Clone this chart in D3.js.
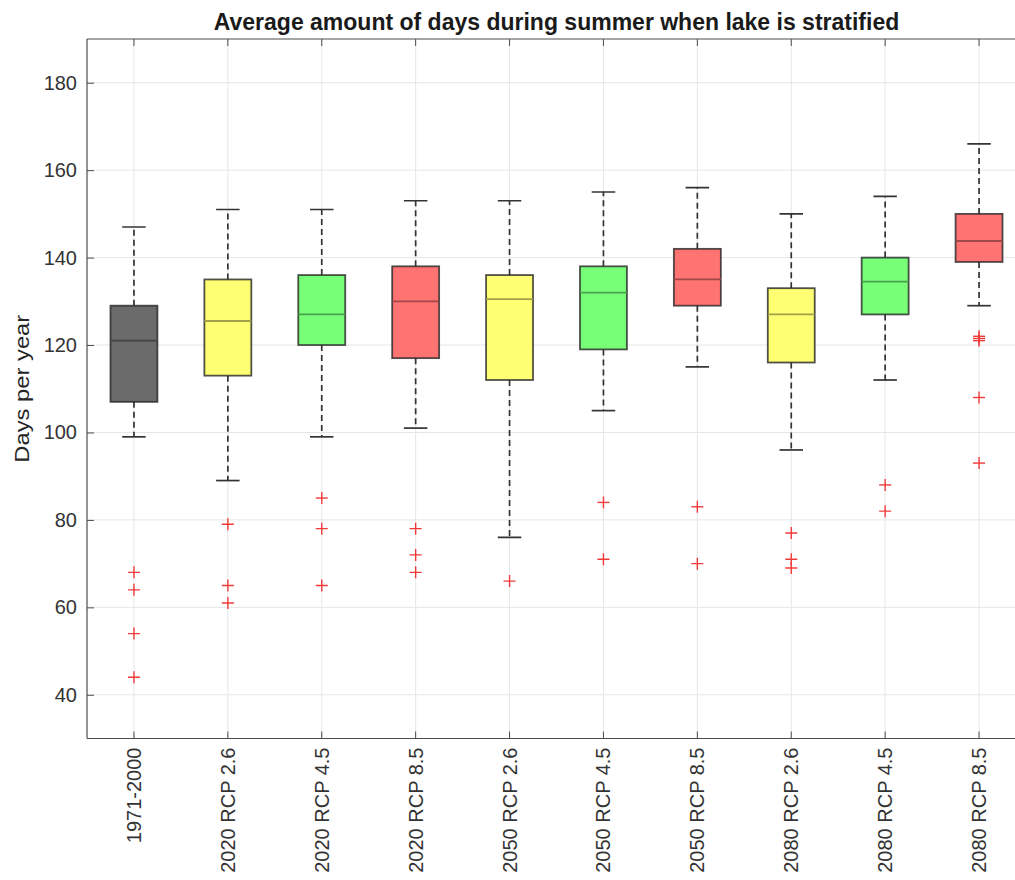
<!DOCTYPE html>
<html>
<head>
<meta charset="utf-8">
<script src="https://cdn.jsdelivr.net/npm/d3@7"></script>
<style>
  html, body { margin: 0; padding: 0; background: #fff; }
  svg { display: block; font-family: "Liberation Sans", Arial, Helvetica, sans-serif; }
</style>
</head>
<body>
<svg id="chart" width="1015" height="880"></svg>
<script>
// ---- data ----
const categories = ["1971-2000", "2020 RCP 2.6", "2020 RCP 4.5", "2020 RCP 8.5", "2050 RCP 2.6",
                    "2050 RCP 4.5", "2050 RCP 8.5", "2080 RCP 2.6", "2080 RCP 4.5", "2080 RCP 8.5"];
const scenario    = ["hist", "RCP 2.6", "RCP 4.5", "RCP 8.5", "RCP 2.6", "RCP 4.5", "RCP 8.5", "RCP 2.6", "RCP 4.5", "RCP 8.5"];
const whiskerLow  = [99, 89, 99, 101, 76, 105, 115, 96, 112, 129];
const q1          = [107, 113, 120, 117, 112, 119, 129, 116, 127, 139];
const median      = [121, 125.5, 127, 130, 130.5, 132, 135, 127, 134.5, 143.8];
const q3          = [129, 135, 136, 138, 136, 138, 142, 133, 140, 150];
const whiskerHigh = [147, 151, 151, 153, 153, 155, 156, 150, 154, 166];
const outliers    = [[68, 64, 54, 44], [79, 65, 61], [85, 78, 65], [78, 72, 68], [66],
                     [84, 71], [83, 70], [77, 71, 69], [88, 82], [122, 121.5, 121, 108, 93]];
const yTicks      = [40, 60, 80, 100, 120, 140, 160, 180];
const titleText   = "Average amount of days during summer when lake is stratified";
const yLabelText  = "Days per year";

(function () {
// ---- layout ----
const pL = 87, pR = 1026, pT = 39, pB = 738.5;
const svg = d3.select("#chart");

const x = d3.scaleBand().domain(categories).range([pL, pR]).padding(0);
const cx = c => x(c) + x.bandwidth() / 2;
const y = d3.scaleLinear().domain([30, 190]).range([pB, pT]);

const color = d3.scaleOrdinal()
  .domain(["hist", "RCP 2.6", "RCP 4.5", "RCP 8.5"])
  .range(["#6b6b6b", "#ffff73", "#78ff78", "#ff7373"]);

const data = categories.map((c, i) => ({
  cat: c, grp: scenario[i], lo: whiskerLow[i], q1: q1[i], med: median[i],
  q3: q3[i], hi: whiskerHigh[i], out: outliers[i]
}));

svg.append("defs").append("clipPath").attr("id", "plotclip")
  .append("rect").attr("x", pL).attr("y", pT).attr("width", pR - pL).attr("height", pB - pT);

// grid
const grid = svg.append("g").attr("clip-path", "url(#plotclip)");
grid.selectAll("line.gy").data(yTicks).join("line")
  .attr("x1", pL).attr("x2", pR).attr("y1", d => y(d)).attr("y2", d => y(d))
  .attr("stroke", "#e6e6e6").attr("stroke-width", 1);
grid.selectAll("line.gx").data(categories).join("line")
  .attr("x1", d => cx(d)).attr("x2", d => cx(d)).attr("y1", pT).attr("y2", pB)
  .attr("stroke", "#e6e6e6").attr("stroke-width", 1);

// boxes
const bw = x.bandwidth() * 0.5;
const cw = x.bandwidth() * 0.25;
const g = svg.append("g").attr("clip-path", "url(#plotclip)");
const box = g.selectAll("g.box").data(data).join("g").attr("class", "box");

box.append("line")
  .attr("x1", d => cx(d.cat)).attr("x2", d => cx(d.cat))
  .attr("y1", d => y(d.q3)).attr("y2", d => y(d.hi))
  .attr("stroke", "#333").attr("stroke-width", 1.7).attr("stroke-dasharray", "6,4");
box.append("line")
  .attr("x1", d => cx(d.cat)).attr("x2", d => cx(d.cat))
  .attr("y1", d => y(d.q1)).attr("y2", d => y(d.lo))
  .attr("stroke", "#333").attr("stroke-width", 1.7).attr("stroke-dasharray", "6,4");
box.append("line")
  .attr("x1", d => cx(d.cat) - cw / 2).attr("x2", d => cx(d.cat) + cw / 2)
  .attr("y1", d => y(d.hi)).attr("y2", d => y(d.hi))
  .attr("stroke", "#333").attr("stroke-width", 1.7);
box.append("line")
  .attr("x1", d => cx(d.cat) - cw / 2).attr("x2", d => cx(d.cat) + cw / 2)
  .attr("y1", d => y(d.lo)).attr("y2", d => y(d.lo))
  .attr("stroke", "#333").attr("stroke-width", 1.7);
box.append("rect")
  .attr("x", d => cx(d.cat) - bw / 2).attr("width", bw)
  .attr("y", d => y(d.q3)).attr("height", d => y(d.q1) - y(d.q3))
  .attr("fill", d => color(d.grp))
  .attr("stroke", "#262626").attr("stroke-opacity", 0.8).attr("stroke-width", 1.8);
box.append("line")
  .attr("x1", d => cx(d.cat) - bw / 2).attr("x2", d => cx(d.cat) + bw / 2)
  .attr("y1", d => y(d.med)).attr("y2", d => y(d.med))
  .attr("stroke", d => d3.color(color(d.grp)).darker(1.3).formatHex())
  .attr("stroke-width", 1.8);

// outliers
const outPts = data.flatMap(d => d.out.map(v => ({ cat: d.cat, v })));
const ms = 6;
const outG = g.selectAll("g.out").data(outPts).join("g")
  .attr("transform", d => `translate(${cx(d.cat)},${y(d.v)})`);
outG.append("line").attr("x1", -ms).attr("x2", ms).attr("y1", 0).attr("y2", 0)
  .attr("stroke", "#f03a3a").attr("stroke-width", 1.4);
outG.append("line").attr("x1", 0).attr("x2", 0).attr("y1", -ms).attr("y2", ms)
  .attr("stroke", "#f03a3a").attr("stroke-width", 1.4);

// axes
const axisColor = "#4d4d4d";
const yAxis = svg.append("g").attr("transform", `translate(${pL},0)`)
  .call(d3.axisLeft(y).tickValues(yTicks).tickSize(-7).tickPadding(10).tickFormat(d3.format("d")));
const yAxisR = svg.append("g").attr("transform", `translate(${pR},0)`)
  .call(d3.axisRight(y).tickValues(yTicks).tickSize(-7).tickFormat(""));
const xAxis = svg.append("g").attr("transform", `translate(0,${pB})`)
  .call(d3.axisBottom(x).tickSize(-7).tickPadding(8));
const xAxisT = svg.append("g").attr("transform", `translate(0,${pT})`)
  .call(d3.axisTop(x).tickSize(-7).tickFormat(""));

[yAxis, yAxisR, xAxis, xAxisT].forEach(a => {
  a.select(".domain").attr("stroke", axisColor).attr("stroke-width", 1.2);
  a.selectAll(".tick line").attr("stroke", axisColor).attr("stroke-width", 1);
  a.selectAll("text").attr("fill", "#333").style("font-size", "20px")
    .style("font-family", "'Liberation Sans', Arial, sans-serif");
});
yAxis.select(".domain").attr("d", `M0,${pT}V${pB}`);
yAxisR.select(".domain").attr("d", `M0,${pT}V${pB}`);
xAxis.select(".domain").attr("d", `M${pL},0H${pR}`);
xAxisT.select(".domain").attr("d", `M${pL},0H${pR}`);

xAxis.selectAll(".tick text")
  .attr("transform", "rotate(-90)")
  .attr("x", -9).attr("y", 0).attr("dy", "0.35em")
  .style("text-anchor", "end");

// title
svg.append("text")
  .attr("x", 556.5).attr("y", 30)
  .attr("text-anchor", "middle")
  .style("font-size", "23px").style("font-weight", "bold").attr("fill", "#1a1a1a")
  .text(titleText);

// y label
svg.append("text")
  .attr("transform", `translate(29,${(pT + pB) / 2}) rotate(-90)`)
  .attr("text-anchor", "middle")
  .attr("textLength", 148).attr("lengthAdjust", "spacingAndGlyphs")
  .style("font-size", "21px").attr("fill", "#262626")
  .text(yLabelText);
})();
</script>
</body>
</html>
